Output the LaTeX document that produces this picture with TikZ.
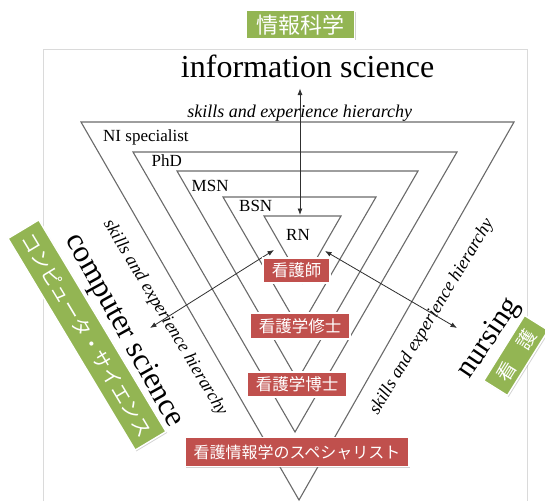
\documentclass[tikz,border=0pt]{standalone}
\usepackage{fontspec}
\setmainfont{Liberation Serif}
\newfontfamily\cjk{Noto Sans CJK JP}
\usetikzlibrary{shadows,arrows.meta}
\definecolor{trigray}{HTML}{6A6A6A}
\definecolor{arrgray}{HTML}{303030}
\definecolor{jpred}{HTML}{C0504D}
\definecolor{jpgreen}{HTML}{93B553}
\definecolor{framegray}{HTML}{DADADA}
\begin{document}
\begin{tikzpicture}[x=1pt,y=1pt,
  tri/.style={draw=trigray,line width=1.1pt,line join=miter},
  arrowline/.style={draw=arrgray,line width=0.8pt,{Latex[length=6.5pt,width=5pt]}-{Latex[length=6.5pt,width=5pt]}},
  lvl/.style={font=\fontsize{17}{17}\selectfont, inner sep=0pt, anchor=base west},
  big/.style={font=\fontsize{32}{32}\selectfont, inner sep=0pt},
  hier/.style={font=\fontsize{18}{18}\selectfont\itshape, inner sep=0pt},
  jpbox/.style={draw=white, line width=1.5pt, text=white, inner sep=0pt,
    drop shadow={shadow xshift=1.2pt,shadow yshift=-1.2pt,opacity=0.35}},
  redbox/.style={jpbox, fill=jpred, font=\cjk\fontsize{16.5}{16.5}\selectfont},
  greenbox/.style={jpbox, fill=jpgreen},
]
\useasboundingbox (0,0) rectangle (545,-501);
\fill[white] (0,0) rectangle (545,-501);
% frame
\draw[framegray,line width=1pt] (43.5,-501) -- (43.5,-49.5) -- (527,-49.5) -- (527,-501);
% nested triangles
\draw[tri] (81,-122) -- (514,-122) -- (299,-500) -- cycle;
\draw[tri] (133,-152) -- (457,-152) -- (295,-432) -- cycle;
\draw[tri] (177,-171) -- (418,-171) -- (297.5,-380) -- cycle;
\draw[tri] (223,-197) -- (376,-197) -- (299.5,-329) -- cycle;
\draw[tri] (264,-216) -- (341,-216) -- (302.5,-283) -- cycle;
% level labels
\node[lvl] (ni) at (103,-141) {NI specialist};
\node[lvl] (phd) at (151.5,-166.5) {PhD};
\node[lvl] (msn) at (191.5,-191) {MSN};
\node[lvl] (bsn) at (239,-211.5) {BSN};
\node[lvl] (rn) at (286,-240) {RN};
% axis labels
\node[big,anchor=base] (info) at (307.6,-77) {information science};
\node[big,font=\fontsize{31}{31}\selectfont,rotate=-61] (cs) at (123.5,-330.5) {computer science};
\node[big,font=\fontsize{30}{30}\selectfont,rotate=56] (nurs) at (489.5,-338.5) {nursing};
\node[hier,anchor=base] (hTop) at (299.8,-117.5) {skills and experience hierarchy};
\node[hier,rotate=-59] (hLeft) at (165,-318) {skills and experience hierarchy};
\node[hier,rotate=59] (hRight) at (432,-317) {skills and experience hierarchy};
% arrows
\coordinate (upTip) at (300,-88.5);
\coordinate (downTip) at (300,-215);
\coordinate (lIn) at (274,-250);
\coordinate (lOut) at (150,-328);
\coordinate (rIn) at (325,-251);
\coordinate (rOut) at (457,-328);
\draw[arrowline] (upTip) -- (downTip);
\draw[arrowline] (lIn) -- (lOut);
\draw[arrowline] (rIn) -- (rOut);
% red boxes
\node[redbox,minimum width=67pt,minimum height=25pt] (jRN) at (296.5,-270.5) {看護師};
\node[redbox,minimum width=100pt,minimum height=26pt] (jMSN) at (300,-326) {看護学修士};
\node[redbox,minimum width=100pt,minimum height=25pt] (jPhD) at (297,-384.5) {看護学博士};
\node[redbox,minimum width=224pt,minimum height=29pt,font=\cjk\fontsize{16}{16}\selectfont] (jNI) at (297,-452) {看護情報学のスペシャリスト};
% green boxes
\node[greenbox,minimum width=108pt,minimum height=28.5pt,font=\cjk\fontsize{22}{22}\selectfont] (gInfo) at (300.7,-24.7) {情報科学};
\node[greenbox,minimum width=247pt,minimum height=36pt,rotate=-59,font=\cjk\fontsize{19.5}{19.5}\selectfont] (gCS) at (87,-335) {コンピュータ・サイエンス};
\node[greenbox,minimum width=77pt,minimum height=28pt,rotate=58,font=\cjk\fontsize{19}{19}\selectfont] (gNurs) at (516,-355.5) {看　護};
\end{tikzpicture}
\end{document}
